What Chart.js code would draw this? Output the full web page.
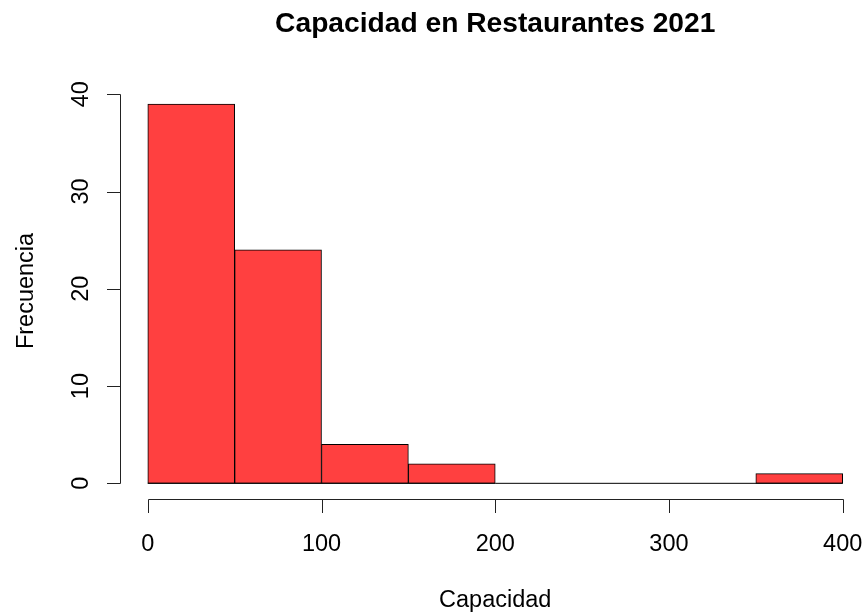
<!DOCTYPE html>
<html>
<head>
<meta charset="utf-8">
<script src="https://cdn.jsdelivr.net/npm/chart.js@4/dist/chart.umd.min.js"></script>
<style>
html,body{margin:0;padding:0;background:#fff;}
#wrap{width:863px;height:614px;position:relative;}
</style>
</head>
<body>
<div id="wrap"><canvas id="c" width="863" height="614"></canvas></div>
<script>
// Histogram bins (left edges, width 50) and counts
const binStarts = [0, 50, 100, 150, 200, 250, 300, 350];
const binWidth = 50;
const counts = [39, 24, 4, 2, 0, 0, 0, 1];
const xTicks = [0, 100, 200, 300, 400];
const yTicks = [0, 10, 20, 30, 40];
const titleText = "Capacidad en Restaurantes 2021";
const xLabel = "Capacidad";
const yLabel = "Frecuencia";

const FONT = '"Liberation Sans", Arial, sans-serif';

const barData = binStarts.map((s, i) => ({ x: s + binWidth / 2, y: counts[i] }));
const baseline = [{ x: binStarts[0], y: 0 }, { x: binStarts[binStarts.length - 1] + binWidth, y: 0 }];

const rAxes = {
  id: 'rAxes',
  afterDraw(chart) {
    const ctx = chart.ctx;
    const xs = chart.scales.x, ys = chart.scales.y;
    const ca = chart.chartArea;
    ctx.save();
    ctx.strokeStyle = '#222';
    ctx.fillStyle = '#000';
    ctx.lineWidth = 1;
    const tick = 13.5;
    // y axis
    const ax = Math.round(ca.left) + 0.5;
    const y0 = ys.getPixelForValue(yTicks[0]);
    const y1 = ys.getPixelForValue(yTicks[yTicks.length - 1]);
    ctx.beginPath();
    ctx.moveTo(ax, Math.round(y0) + 0.5);
    ctx.lineTo(ax, Math.round(y1) + 0.5);
    yTicks.forEach(v => {
      const py = Math.round(ys.getPixelForValue(v)) + 0.5;
      ctx.moveTo(ax, py);
      ctx.lineTo(ax - tick, py);
    });
    ctx.stroke();
    ctx.font = '23.5px ' + FONT;
    ctx.textAlign = 'center';
    ctx.textBaseline = 'alphabetic';
    yTicks.forEach(v => {
      const py = ys.getPixelForValue(v);
      ctx.save();
      ctx.translate(88, py);
      ctx.rotate(-Math.PI / 2);
      ctx.fillText(String(v), 0, 0);
      ctx.restore();
    });
    // x axis
    const ay = Math.round(ca.bottom) + 0.5;
    const x0 = xs.getPixelForValue(xTicks[0]);
    const x1 = xs.getPixelForValue(xTicks[xTicks.length - 1]);
    ctx.beginPath();
    ctx.moveTo(Math.round(x0) + 0.5, ay);
    ctx.lineTo(Math.round(x1) + 0.5, ay);
    xTicks.forEach(v => {
      const px = Math.round(xs.getPixelForValue(v)) + 0.5;
      ctx.moveTo(px, ay);
      ctx.lineTo(px, ay + tick);
    });
    ctx.stroke();
    xTicks.forEach(v => {
      ctx.fillText(String(v), xs.getPixelForValue(v), 551);
    });
    // axis titles
    const cx = (xs.getPixelForValue(-16) + xs.getPixelForValue(416)) / 2;
    ctx.fillText(xLabel, cx, 607);
    ctx.save();
    ctx.translate(33, 291);
    ctx.rotate(-Math.PI / 2);
    ctx.fillText(yLabel, 0, 0);
    ctx.restore();
    // main title
    ctx.font = 'bold 28.2px ' + FONT;
    ctx.fillText(titleText, cx, 32);
    ctx.restore();
  }
};

new Chart(document.getElementById('c'), {
  type: 'bar',
  data: {
    datasets: [
      {
        type: 'line',
        data: baseline,
        borderColor: '#000',
        borderWidth: 1,
        pointRadius: 0,
        fill: false,
        order: 0
      },
      {
        type: 'bar',
        data: barData,
        backgroundColor: '#FF4040',
        borderColor: '#000',
        borderWidth: 1,
        borderSkipped: false,
        barPercentage: 1,
        categoryPercentage: 1,
        order: 1
      }
    ]
  },
  options: {
    responsive: false,
    animation: false,
    devicePixelRatio: 1,
    layout: { padding: { left: 120, right: 0, top: 88.8, bottom: 115.5 } },
    plugins: { legend: { display: false }, tooltip: { enabled: false }, title: { display: false } },
    scales: {
      x: { type: 'linear', min: -16, max: 411.7, display: false, offset: false },
      y: { type: 'linear', min: -1.56, max: 40.56, display: false }
    }
  },
  plugins: [rAxes]
});
</script>
</body>
</html>
